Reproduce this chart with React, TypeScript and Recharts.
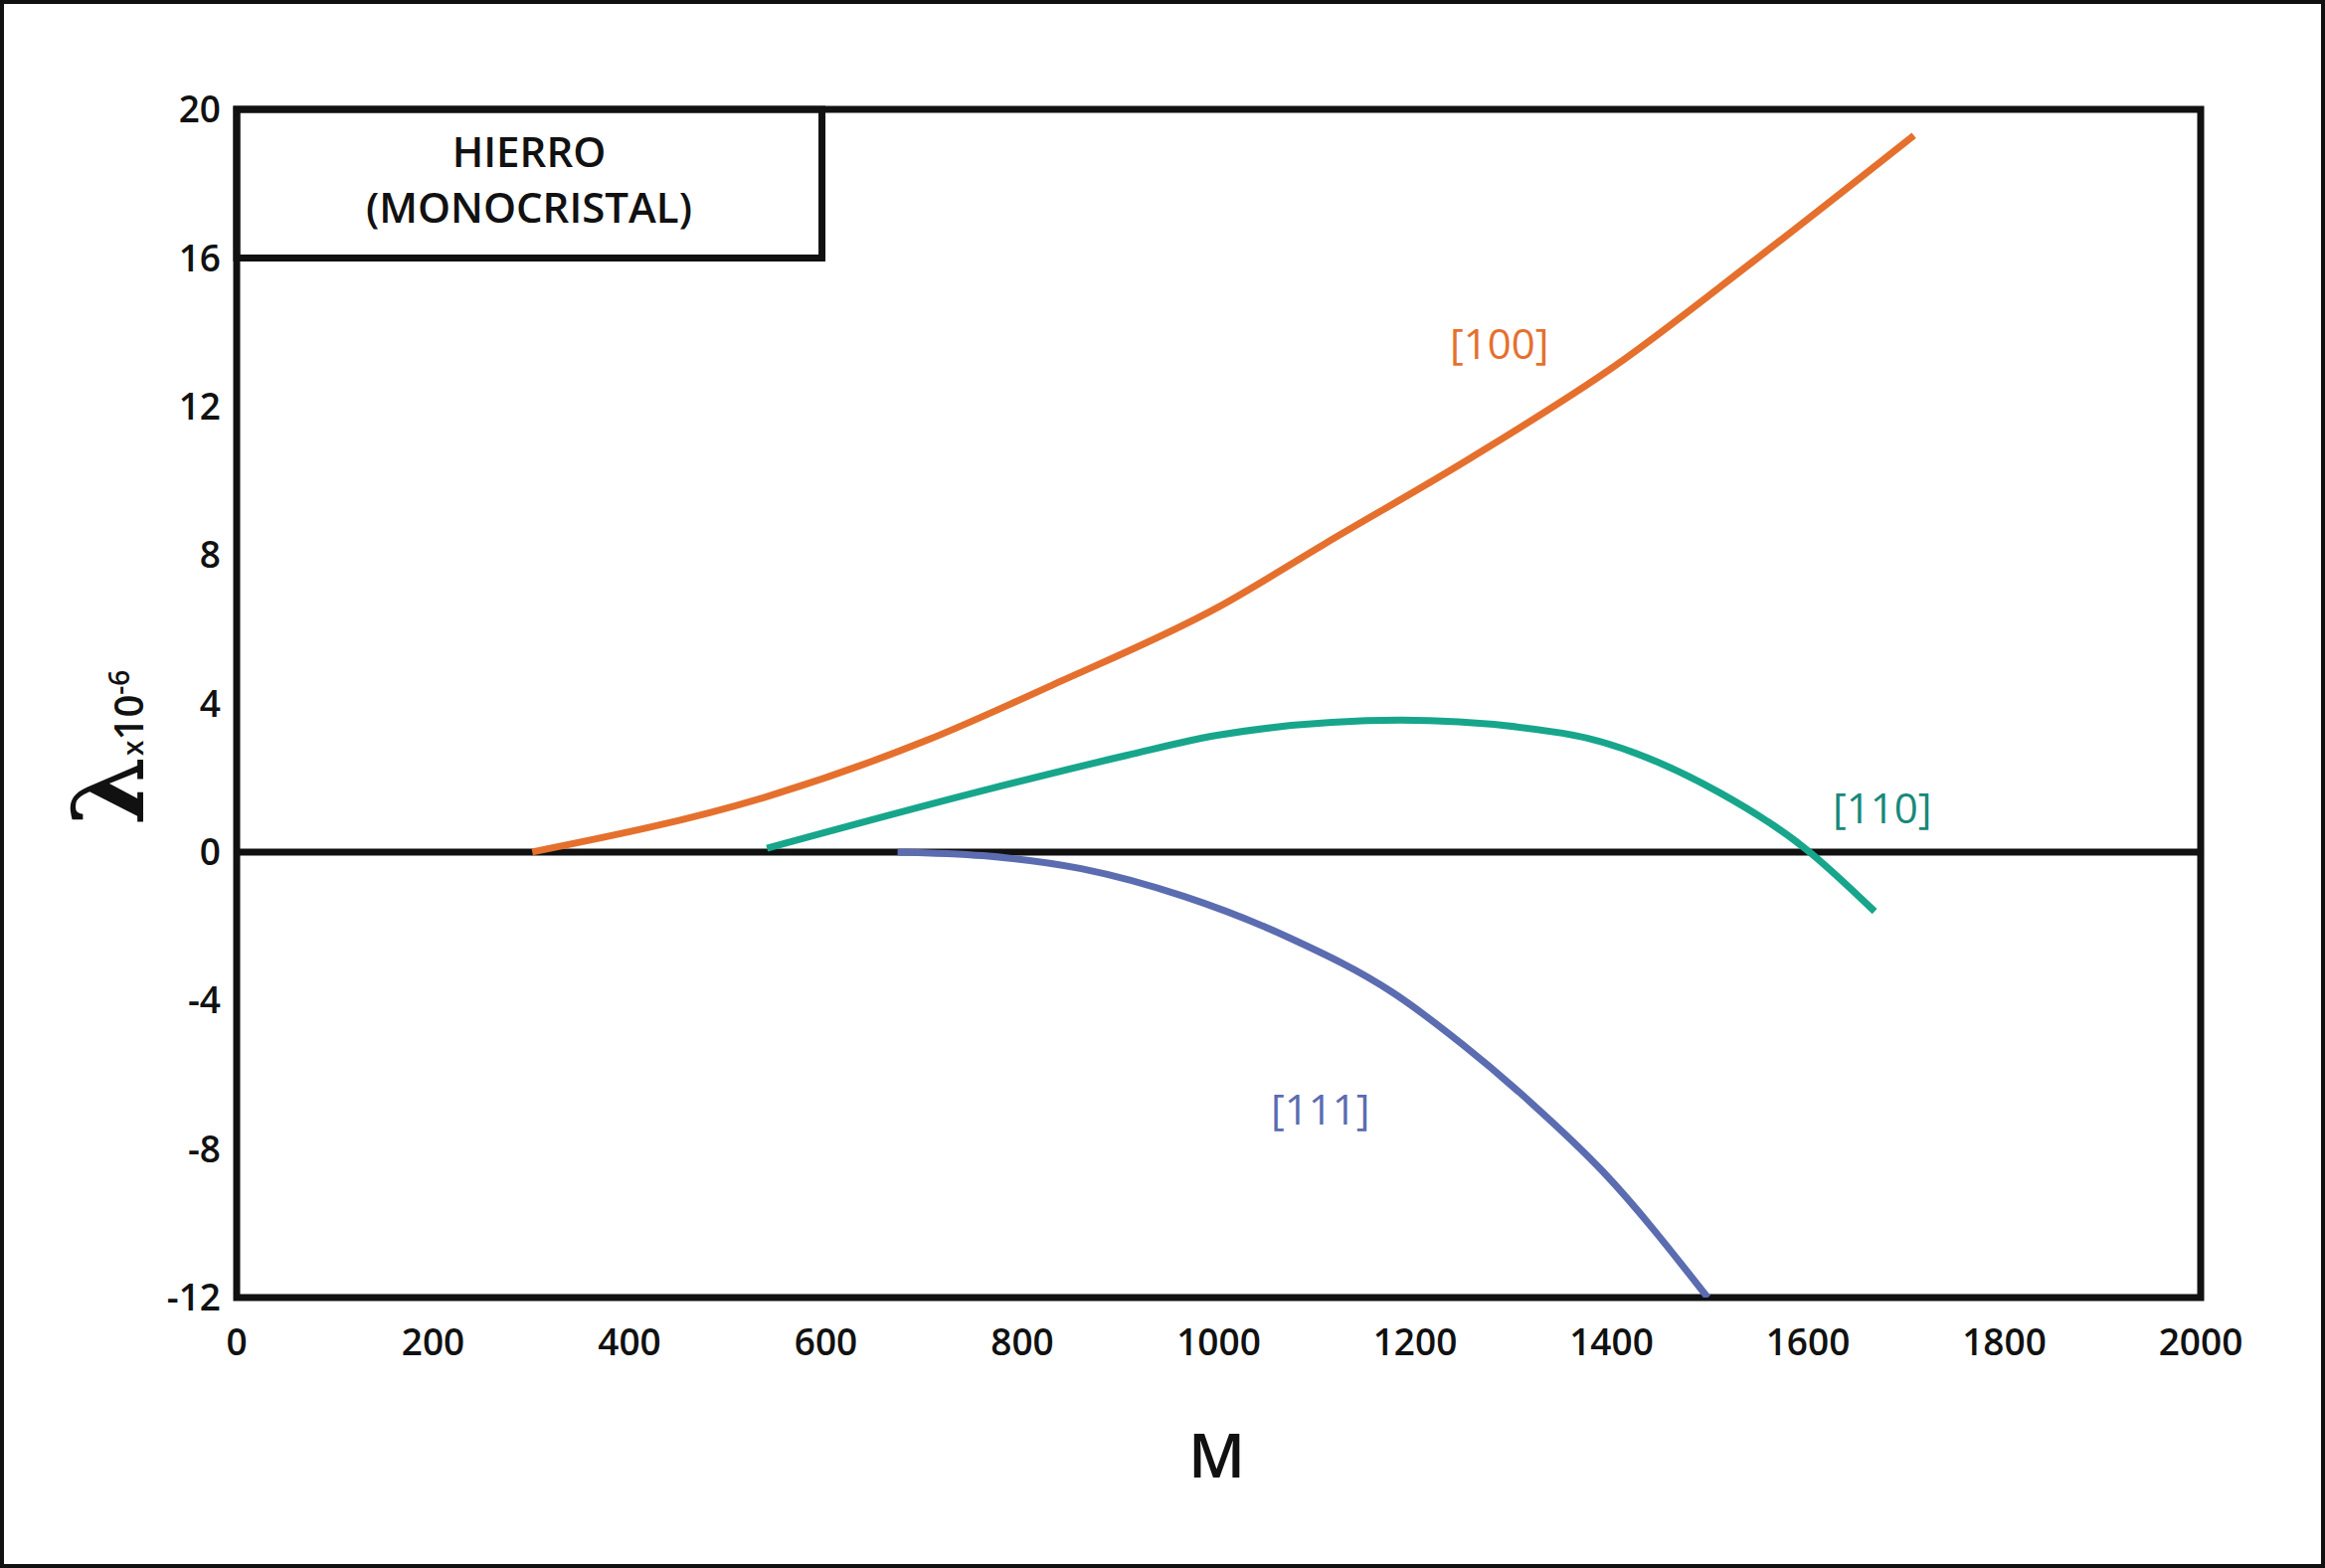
import React from 'react';
import { LineChart, Line, XAxis, YAxis, ReferenceLine, ReferenceArea } from 'recharts';

const xTicks = [0, 200, 400, 600, 800, 1000, 1200, 1400, 1600, 1800, 2000];
const yTicks = [-12, -8, -4, 0, 4, 8, 12, 16, 20];

const dir100 = [
  { m: 301, v: 0 }, { m: 541, v: 1.5 }, { m: 702, v: 3.0 }, { m: 831, v: 4.5 },
  { m: 1000, v: 6.6 }, { m: 1108, v: 8.3 }, { m: 1256, v: 10.6 }, { m: 1404, v: 13.1 },
  { m: 1544, v: 15.9 }, { m: 1708, v: 19.3 },
];
const dir110 = [
  { m: 540, v: 0.1 }, { m: 767, v: 1.7 }, { m: 906, v: 2.6 }, { m: 1000, v: 3.15 },
  { m: 1185, v: 3.55 }, { m: 1350, v: 3.2 }, { m: 1510, v: 1.6 }, { m: 1597, v: 0.1 },
  { m: 1668, v: -1.6 },
];
const dir111 = [
  { m: 673, v: 0 }, { m: 760, v: -0.1 }, { m: 860, v: -0.45 }, { m: 965, v: -1.2 },
  { m: 1071, v: -2.3 }, { m: 1178, v: -3.8 }, { m: 1249, v: -5.2 }, { m: 1320, v: -6.8 },
  { m: 1391, v: -8.6 }, { m: 1498, v: -12.0 },
];

const font = '"Open Sans", "DejaVu Sans", sans-serif';
const tickStyle = { fontSize: 37, fill: '#111', fontFamily: font, fontWeight: 600 };

const abs = (x: number, y: number, extra: React.CSSProperties = {}): React.CSSProperties => ({
  position: 'absolute', left: x, top: y, fontFamily: font, whiteSpace: 'nowrap', ...extra,
});

export default function App() {
  return (
    <div style={{ position: 'absolute', left: 0, top: 0, width: 2338, height: 1577, background: '#fff' }}>
      <div style={{ position: 'absolute', left: 0, top: 0, width: 2330, height: 1569, border: '4px solid #111' }} />
      <LineChart width={2338} height={1577} margin={{ top: 110, right: 125, bottom: 242, left: 0 }}>
        <XAxis type="number" dataKey="m" domain={[0, 2000]} ticks={xTicks} allowDataOverflow
          axisLine={false} tickLine={false} tick={tickStyle} dy={24} />
        <YAxis type="number" domain={[-12, 20]} ticks={yTicks} allowDataOverflow
          axisLine={false} tickLine={false} tick={tickStyle} width={238} dx={-8} />
        <ReferenceArea x1={0} x2={2000} y1={-12} y2={20} fill="none" stroke="#111" strokeWidth={7} ifOverflow="visible" />
        <ReferenceArea x1={0} x2={596} y1={16} y2={20} fill="none" stroke="#111" strokeWidth={7} ifOverflow="visible" />
        <ReferenceLine y={0} stroke="#111" strokeWidth={7} />
        <Line data={dir100} dataKey="v" type="monotone" stroke="#E5702E" strokeWidth={7} dot={false} isAnimationActive={false} />
        <Line data={dir110} dataKey="v" type="monotone" stroke="#17A68B" strokeWidth={7} dot={false} isAnimationActive={false} />
        <Line data={dir111} dataKey="v" type="monotone" stroke="#5B6CB0" strokeWidth={7} dot={false} isAnimationActive={false} />
      </LineChart>
      <div style={abs(238, 124, { width: 588, textAlign: 'center', fontSize: 42, fontWeight: 600, lineHeight: '56px', color: '#111' })}>
        HIERRO<br />(MONOCRISTAL)
      </div>
      <div style={abs(1458, 316, { fontSize: 42, color: '#E5702E' })}>[100]</div>
      <div style={abs(1843, 783, { fontSize: 42, color: '#17897A' })}>[110]</div>
      <div style={abs(1278, 1086, { fontSize: 42, color: '#5B6CB0' })}>[111]</div>
      <div style={abs(1195, 1420, { fontSize: 62, fontWeight: 600, color: '#111' })}>M</div>
      <div style={abs(20, 660, { width: 200, height: 140, transform: 'rotate(-90deg)', transformOrigin: 'center' })}>
        <span style={{ fontSize: 40, color: '#111', fontWeight: 600 }}>
          <span style={{ fontSize: 100, fontFamily: '"DejaVu Serif", serif' }}>λ</span>
          <span style={{ fontSize: 28 }}>x</span>10<sup style={{ fontSize: 28 }}>-6</sup>
        </span>
      </div>
    </div>
  );
}
